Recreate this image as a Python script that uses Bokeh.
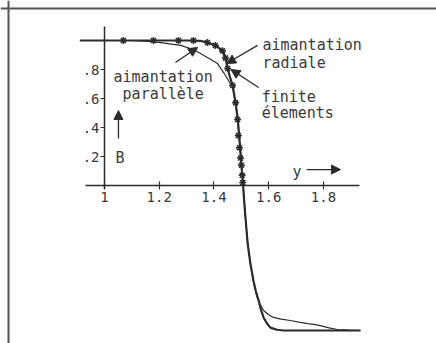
from bokeh.plotting import figure
from bokeh.models import LinearAxis, FixedTicker, Label, Arrow, NormalHead, Span
from bokeh.embed import file_html
from bokeh.resources import INLINE

# --- data -------------------------------------------------------------
# aimantation radiale (thick curve)
rad_y = [0.91, 1.0, 1.1, 1.2, 1.3, 1.35, 1.376, 1.405, 1.431, 1.442, 1.45, 1.458,
         1.468, 1.479, 1.487, 1.494, 1.5, 1.505, 1.514, 1.523, 1.533, 1.544,
         1.553, 1.563, 1.572, 1.581, 1.593, 1.606, 1.63, 1.654, 1.8, 1.935]
rad_B = [1.0, 1.0, 1.0, 1.0, 1.0, 0.997, 0.986, 0.966, 0.93, 0.88, 0.807, 0.75,
         0.69, 0.57, 0.455, 0.3, 0.15, 0.03, -0.2, -0.4, -0.54, -0.655,
         -0.73, -0.793, -0.86, -0.91, -0.95, -0.98, -0.995, -1.0, -1.0, -1.0]

# aimantation parallele (thin curve)
par_y = [0.91, 1.1, 1.15, 1.205, 1.278, 1.325, 1.376, 1.413, 1.435, 1.453, 1.468,
         1.478, 1.486, 1.493, 1.499, 1.506, 1.514, 1.523, 1.533, 1.544, 1.552,
         1.559, 1.57, 1.581, 1.6, 1.617, 1.645, 1.679, 1.71, 1.742, 1.765, 1.789,
         1.82, 1.851, 1.89, 1.935]
par_B = [1.0, 1.0, 0.995, 0.986, 0.966, 0.938, 0.883, 0.841, 0.779, 0.724, 0.676,
         0.58, 0.455, 0.3, 0.16, 0.03, -0.2, -0.4, -0.54, -0.66, -0.73,
         -0.78, -0.825, -0.862, -0.892, -0.91, -0.922, -0.931, -0.942, -0.952,
         -0.958, -0.966, -0.982, -0.993, -0.998, -1.0]

# finite elements (stars)
fe_y = [1.069, 1.179, 1.27, 1.325, 1.376, 1.405, 1.431, 1.442, 1.45, 1.468,
        1.479, 1.486, 1.489, 1.493, 1.497, 1.5, 1.503, 1.505]
fe_B = [1.0, 1.0, 1.0, 1.0, 0.986, 0.966, 0.93, 0.88, 0.807, 0.69, 0.57, 0.455,
        0.345, 0.26, 0.19, 0.14, 0.07, 0.02]

x_ticks = [1.0, 1.2, 1.4, 1.6, 1.8]
x_tick_labels = ["1", "1.2", "1.4", "1.6", "1.8"]
y_ticks = [0.2, 0.4, 0.6, 0.8]
y_tick_labels = [".2", ".4", ".6", ".8"]

INK = "#2b2b2b"
TXT = "#3a3a3a"
FONT = "DejaVu Sans Mono"

X0, X1 = 0.6201, 2.2128
Y0, Y1 = -1.0897, 1.2759

p = figure(width=436, height=343, x_range=(X0, X1), y_range=(Y0, Y1),
           x_axis_type=None, y_axis_type=None, min_border=0,
           output_backend="svg", toolbar_location=None)
p.outline_line_color = None
p.background_fill_color = "white"
p.border_fill_color = "white"

# frame lines (left and top only, as in the scan)
p.add_layout(Span(location=0.6493, dimension="height", line_color="#555555", line_width=2))
p.add_layout(Span(location=1.2207, dimension="width", line_color="#555555", line_width=2))

# axes crossing at (1, 0)
xax = LinearAxis(fixed_location=0, bounds=(0.93, 1.93),
                 ticker=FixedTicker(ticks=x_ticks))
xax.major_label_overrides = {t: l for t, l in zip(x_ticks, x_tick_labels)}
xax.axis_line_color = INK
xax.axis_line_width = 1.5
xax.major_tick_line_color = INK
xax.major_tick_line_width = 1.2
xax.major_tick_in = 4
xax.major_tick_out = 4
xax.minor_tick_line_color = None
xax.major_label_standoff = 3
xax.major_label_text_font = FONT
xax.major_label_text_font_size = "14px"
xax.major_label_text_color = TXT
p.add_layout(xax, "below")

yax = LinearAxis(fixed_location=1.0, bounds=(-0.02, 1.1),
                 ticker=FixedTicker(ticks=y_ticks))
yax.major_label_overrides = {t: l for t, l in zip(y_ticks, y_tick_labels)}
yax.axis_line_color = INK
yax.axis_line_width = 1.5
yax.major_tick_line_color = INK
yax.major_tick_line_width = 1.2
yax.major_tick_in = 0
yax.major_tick_out = 4
yax.minor_tick_line_color = None
yax.major_label_standoff = 1
yax.major_label_text_font = FONT
yax.major_label_text_font_size = "14px"
yax.major_label_text_color = TXT
yax.major_label_orientation = "horizontal"
p.add_layout(yax, "left")

# curves
p.line(par_y, par_B, line_color=INK, line_width=1.2)
p.line(rad_y, rad_B, line_color=INK, line_width=2.2)
p.scatter(fe_y, fe_B, marker="asterisk", size=7, line_color=INK, line_width=1.5)

# labels
def lab(x, y, t):
    p.add_layout(Label(x=x, y=y, text=t, text_font=FONT, text_font_size="15px",
                       text_color=TXT, text_baseline="alphabetic", text_align="left"))

lab(1.033, 0.745, "aimantation")
lab(1.066, 0.634, "parallèle")
lab(1.577, 0.966, "aimantation")
lab(1.577, 0.848, "radiale")
lab(1.574, 0.607, "finite")
lab(1.574, 0.497, "élements")
lab(1.040, 0.193, "B")
lab(1.687, 0.09, "y")

def arr(x0, y0, x1, y1):
    p.add_layout(Arrow(x_start=x0, y_start=y0, x_end=x1, y_end=y1,
                       line_color=INK, line_width=1.3,
                       end=NormalHead(size=9, fill_color=INK, line_color=INK)))

arr(1.051, 0.324, 1.051, 0.517)   # B
arr(1.738, 0.11, 1.862, 0.11)     # y
arr(1.259, 0.848, 1.340, 0.952)   # parallele
arr(1.559, 0.966, 1.446, 0.841)   # radiale
arr(1.563, 0.676, 1.462, 0.8)     # finite elements

open("out.html", "w").write(file_html(p, INLINE))
